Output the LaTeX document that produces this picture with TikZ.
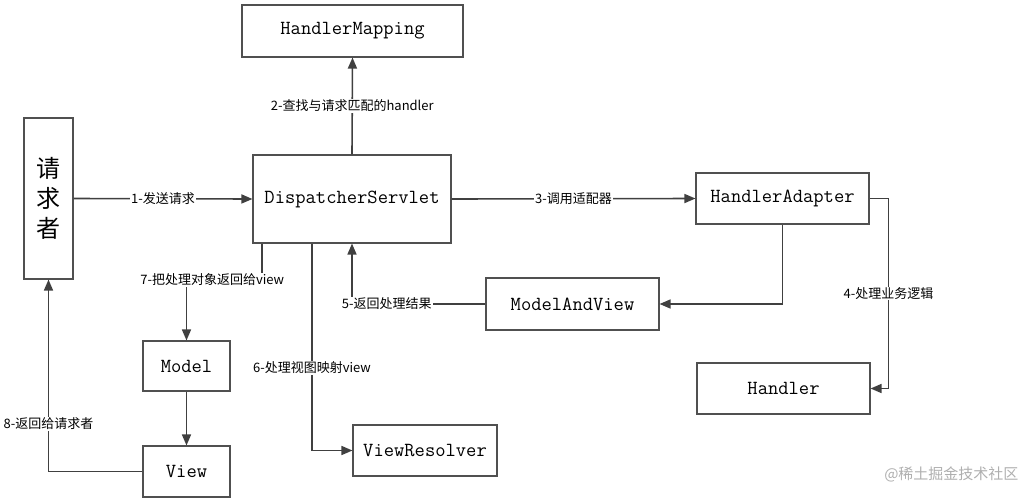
\documentclass[tikz,border=0pt]{standalone}
\usepackage{fontspec}
\usepackage{tikz}
\usetikzlibrary{arrows.meta,positioning}
\newfontfamily\cjk{Noto Sans CJK SC}
\definecolor{linegray}{RGB}{64,64,64}
\definecolor{boxgray}{RGB}{80,80,80}
\definecolor{markgray}{RGB}{175,175,175}

\begin{document}
\begin{tikzpicture}[x=1pt,y=-1pt,>={Triangle[length=11pt,width=9pt]},
  box/.style={draw=boxgray,line width=1.1pt,inner sep=0pt,minimum height=51pt,font=\ttfamily\fontsize{20}{24}\selectfont},
  flow/.style={->,draw=linegray,line width=1.6pt},
  lbl/.style={fill=white,inner sep=1pt,font=\cjk\fontsize{13}{15}\selectfont}]
  \useasboundingbox (0,0) rectangle (1023,501);
  % boxes
  \node[box,minimum width=49pt,minimum height=161pt,align=center,font=\cjk\fontsize{24}{30}\selectfont] (asker) at (48.5,198.5) {请\\求\\者};
  \node[box,minimum width=221pt,minimum height=52pt] (mapping) at (352.5,31) {HandlerMapping};
  \node[box,minimum width=198pt,minimum height=88pt] (servlet) at (352,199) {DispatcherServlet};
  \node[box,minimum width=173pt] (adapter) at (782.5,198.5) {HandlerAdapter};
  \node[box,minimum width=173pt,minimum height=52pt] (mav) at (572.5,304) {ModelAndView};
  \node[box,minimum width=173pt] (handler) at (783.5,388.5) {Handler};
  \node[box,minimum width=87pt,minimum height=50pt] (model) at (186.5,366) {Model};
  \node[box,minimum width=87pt] (view) at (186.5,471.5) {View};
  \node[box,minimum width=144pt] (resolver) at (425,450.5) {ViewResolver};
  % connectors
  \draw[flow] (asker.east) -- node[lbl]{1-发送请求} (servlet.west);
  \draw[flow] (servlet.north) -- node[lbl]{2-查找与请求匹配的handler} (mapping.south);
  \draw[flow] (servlet.east) -- node[lbl]{3-调用适配器} (adapter.west);
  \draw[flow] (adapter.east) -- ++(19,0) |- node[lbl,pos=0.25]{4-处理业务逻辑} (handler.east);
  \draw[flow] (adapter.south) |- (mav.east);
  \draw[flow] (mav.west) -| node[lbl,pos=0.37]{5-返回处理结果} (servlet.south);
  \draw[flow] ([xshift=-40pt]servlet.south) |- node[lbl,pos=0.3]{6-处理视图映射view} (resolver.west);
  \draw[flow] ([xshift=-90pt]servlet.south) -- ++(0,36) -| node[lbl,pos=0.33]{7-把处理对象返回给view} (model.north);
  \draw[flow] (model.south) -- (view.north);
  \draw[flow] (view.west) -| node[lbl,pos=0.625]{8-返回给请求者} (asker.south);
  \node[font=\cjk\fontsize{15}{18}\selectfont,text=markgray,anchor=east] (mark) at (1022,474) {@稀土掘金技术社区};
\end{tikzpicture}
\end{document}
